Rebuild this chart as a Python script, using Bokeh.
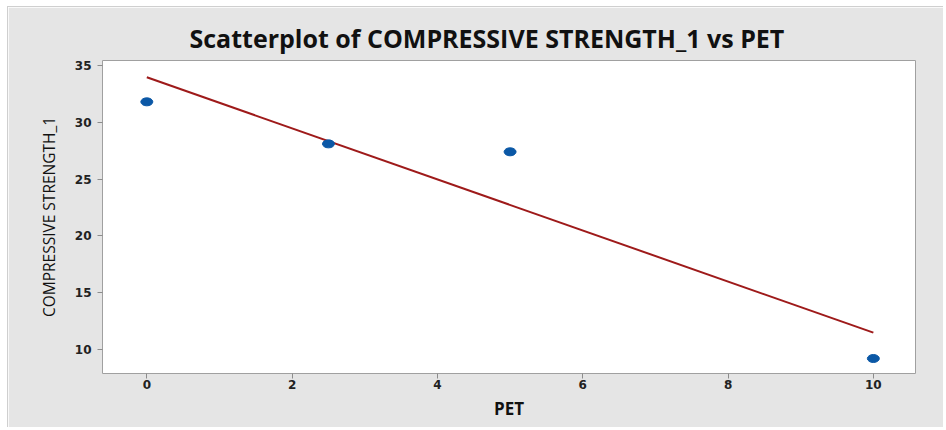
import numpy as np
from bokeh.plotting import figure
from bokeh.models import Range1d, FixedTicker
from bokeh.embed import file_html
from bokeh.resources import INLINE

# data
pet = [0, 2.5, 5, 10]
strength = [31.8, 28.1, 27.4, 9.2]
x_ticks = [0, 2, 4, 6, 8, 10]
y_ticks = [10, 15, 20, 25, 30, 35]

# least-squares fitted line derived from the data
slope, intercept = np.polyfit(pet, strength, 1)
fit_x = [min(pet), max(pet)]
fit_y = [intercept + slope * v for v in fit_x]

p = figure(width=936, height=421, output_backend="svg", toolbar_location=None,
           x_range=Range1d(-0.61, 10.58), y_range=Range1d(7.88, 35.44),
           min_border_left=94, min_border_right=29, min_border_top=53, min_border_bottom=55)

p.background_fill_color = "white"
p.border_fill_color = "#e5e5e5"
p.outline_line_color = "#a0a0a0"
p.outline_line_width = 1
p.styles = {"margin-left": "7px", "margin-top": "6px",
            "border-left": "1px solid #cfcfcf", "border-top": "1px solid #cfcfcf"}

p.title.text = "Scatterplot of COMPRESSIVE STRENGTH_1 vs PET"
p.title.align = "left"
p.title.offset = 87
p.title.standoff = 11
p.title.text_font = "Open Sans"
p.title.text_font_size = "25px"
p.title.text_font_style = "bold"
p.title.text_color = "#111111"

p.xgrid.visible = False
p.ygrid.visible = False

for ax in (p.xaxis[0], p.yaxis[0]):
    ax.axis_line_color = None
    ax.major_tick_in = 0
    ax.major_tick_out = 5
    ax.major_tick_line_color = "#8c8c8c"
    ax.minor_tick_line_color = None
    ax.major_label_text_font = "DejaVu Sans"
    ax.major_label_text_font_style = "bold"
    ax.major_label_text_font_size = "12px"
    ax.major_label_text_color = "#222222"
    ax.axis_label_text_color = "#111111"

p.xaxis.ticker = FixedTicker(ticks=x_ticks)
p.yaxis.ticker = FixedTicker(ticks=y_ticks)
p.xaxis.major_label_standoff = 1
p.yaxis.major_label_standoff = 6

p.xaxis.axis_label = "PET"
p.xaxis.axis_label_text_font = "Open Sans"
p.xaxis.axis_label_text_font_style = "bold"
p.xaxis.axis_label_text_font_size = "17px"
p.xaxis.axis_label_standoff = 5

p.yaxis.axis_label = "COMPRESSIVE STRENGTH_1"
p.yaxis.axis_label_text_font = "Open Sans"
p.yaxis.axis_label_text_font_style = "normal"
p.yaxis.axis_label_text_font_size = "15.5px"
p.yaxis.axis_label_standoff = 12

p.line(fit_x, fit_y, line_color="#9e1a1a", line_width=2)
p.ellipse(x=pet, y=strength, width=12, height=8, width_units="screen", height_units="screen",
          fill_color="#0b58a6", line_color="#0b58a6")

open("out.html", "w").write(file_html(p, INLINE))
